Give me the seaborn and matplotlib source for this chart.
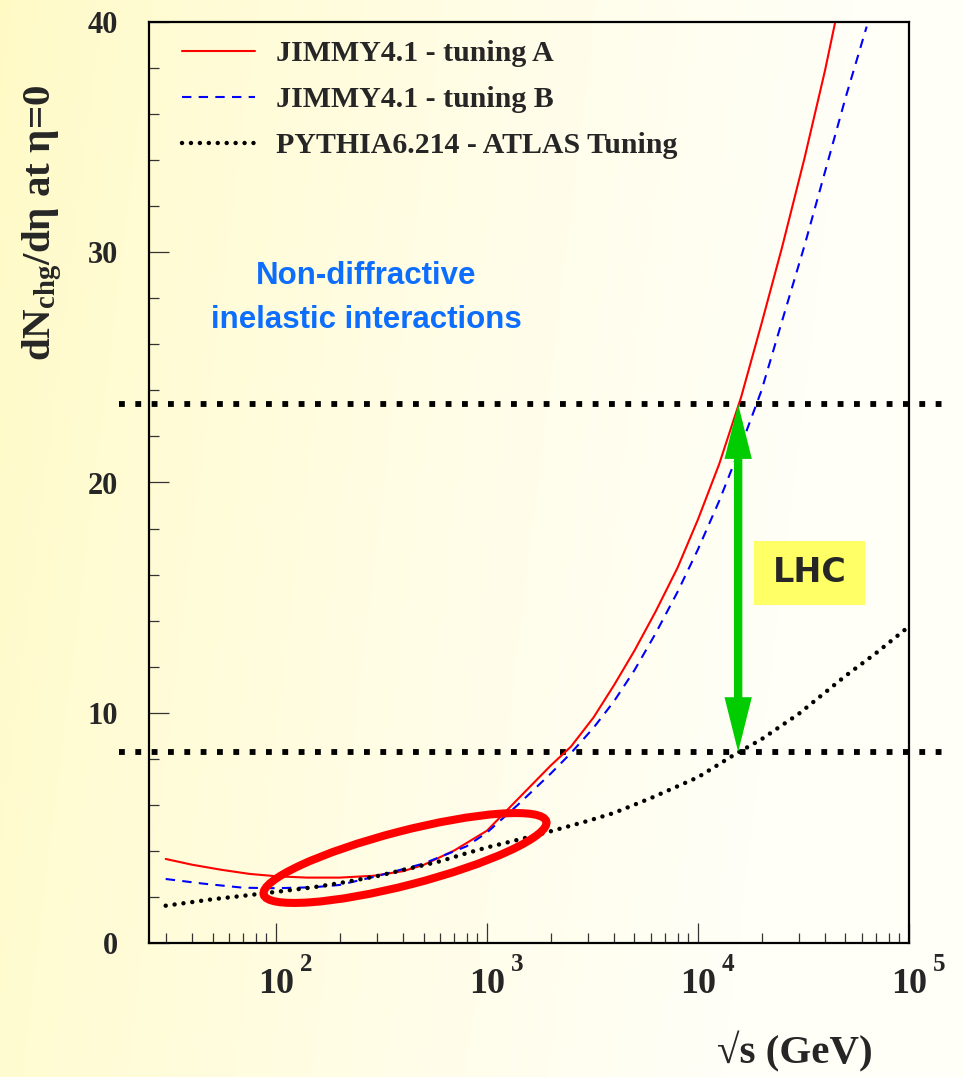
import numpy as np
import matplotlib
matplotlib.use("Agg")
import matplotlib.pyplot as plt
import matplotlib.transforms as mtrans
import seaborn as sns
from matplotlib.patches import Ellipse, Rectangle
from matplotlib.ticker import LogLocator, MultipleLocator, FuncFormatter, NullFormatter

sns.set_style("ticks")
plt.rcParams['font.family'] = ['Liberation Serif', 'DejaVu Serif']
plt.rcParams['font.weight'] = 'bold'
plt.rcParams['mathtext.fontset'] = 'custom'
plt.rcParams['mathtext.rm'] = 'Liberation Serif:bold'
plt.rcParams['mathtext.bf'] = 'Liberation Serif:bold'
plt.rcParams['mathtext.it'] = 'Liberation Serif:bold:italic'

# JIMMY4.1 - tuning A
sqrt_s_a = [30, 40, 55, 75, 100, 140, 200, 290, 400, 500, 700, 1000, 1400, 2000, 2500, 3200, 4000, 5000,
            6300, 8000, 10000, 12600, 16000, 20000, 25000, 32000, 40000, 44700]
nch_a = [3.65, 3.4, 3.18, 3.0, 2.9, 2.84, 2.84, 2.92, 3.12, 3.39, 4.02, 4.88, 6.25, 7.7, 8.53, 9.8, 11.2, 12.7,
         14.4, 16.3, 18.4, 20.8, 23.7, 26.9, 30.2, 34.1, 37.9, 40.0]

# JIMMY4.1 - tuning B
sqrt_s_b = [30, 45, 70, 100, 150, 200, 300, 500, 800, 1000, 1400, 2000, 2500, 3200, 4000, 5000, 6300, 8000,
            10000, 12600, 16000, 20000, 25000, 32000, 40000, 50000, 63000]
nch_b = [2.78, 2.58, 2.4, 2.38, 2.42, 2.52, 2.9, 3.45, 4.2, 4.8, 6.0, 7.35, 8.25, 9.35, 10.5, 11.85, 13.45, 15.25,
         17.1, 19.2, 21.6, 24.0, 27.0, 30.3, 33.5, 36.7, 39.8]

# PYTHIA6.214 - ATLAS Tuning
sqrt_s_p = [30, 50, 70, 100, 150, 200, 300, 400, 600, 800, 1000, 1500, 2000, 3000, 4000, 6000, 10000, 15000,
            20000, 30000, 50000, 70000, 100000]
nch_p = [1.62, 1.9, 2.05, 2.22, 2.42, 2.6, 2.9, 3.17, 3.55, 3.9, 4.15, 4.55, 4.85, 5.3, 5.65, 6.3, 7.2, 8.2,
         8.85, 9.95, 11.6, 12.6, 13.75]

labels = ["JIMMY4.1 - tuning A", "JIMMY4.1 - tuning B", "PYTHIA6.214 - ATLAS Tuning"]

# LHC range markers
lhc_levels = [8.3, 23.4]
lhc_line_x = [18, 150000]
lhc_arrow_x = 15500

fig = plt.figure(figsize=(9.63, 10.77), dpi=100)

# yellowish background gradient
bg = fig.add_axes([0, 0, 1, 1], zorder=-1)
gx = np.linspace(0, 1, 400)
gy = np.linspace(0, 1, 400)
GX, GY = np.meshgrid(gx, gy)
t = np.clip(GX * 1.1 + 0.15 * GY, 0, 1) ** 0.75
left = np.array([255, 250, 196]) / 255
right = np.array([255, 255, 248]) / 255
img = left[None, None, :] * (1 - t[..., None]) + right[None, None, :] * t[..., None]
bg.imshow(img, aspect='auto', extent=[0, 1, 0, 1], origin='upper')
bg.axis('off')

ax = fig.add_axes([149 / 963, 1 - 943 / 1077, 760 / 963, 921 / 1077])
ax.set_facecolor('none')

sns.lineplot(x=sqrt_s_a, y=nch_a, ax=ax, color='#FF0000', lw=1.5, label=labels[0], errorbar=None)
sns.lineplot(x=sqrt_s_b, y=nch_b, ax=ax, color='#0000FF', lw=1.5, linestyle=(0, (4.5, 3.5)),
             label=labels[1], errorbar=None)
sns.lineplot(x=sqrt_s_p, y=nch_p, ax=ax, color='black', lw=3.2, linestyle=(0, (0.01, 2.0)),
             dash_capstyle='round', label=labels[2], errorbar=None)

for lv in lhc_levels:
    ax.plot(lhc_line_x, [lv, lv], color='black', lw=4.2, linestyle=(0, (1, 1.8)),
            dash_capstyle='butt', clip_on=False, zorder=1)

ax.annotate("", xy=(lhc_arrow_x, lhc_levels[0]), xytext=(lhc_arrow_x, lhc_levels[1]),
            arrowprops=dict(arrowstyle='<|-|>,head_length=24,head_width=6', mutation_scale=1,
                            lw=6.0, color='#00CC00', shrinkA=0, shrinkB=0,
                            joinstyle='miter', capstyle='butt'), zorder=4)

ax.set_xscale('log')
ax.set_xlim(25, 1e5)
ax.set_ylim(0, 40)

ax.xaxis.set_major_locator(LogLocator(base=10, numticks=10))
ax.xaxis.set_minor_locator(LogLocator(base=10, subs=np.arange(2, 10), numticks=20))
ax.xaxis.set_minor_formatter(NullFormatter())
ax.xaxis.set_major_formatter(FuncFormatter(lambda v, p: '10'))
ax.yaxis.set_major_locator(MultipleLocator(10))
ax.yaxis.set_minor_locator(MultipleLocator(2))

ax.tick_params(axis='both', which='major', direction='in', length=14.4, width=0.9, color='#333333')
ax.tick_params(axis='both', which='minor', direction='in', length=7.2, width=0.9, color='#333333')
ax.tick_params(axis='y', which='major', pad=22, labelsize=22)
ax.tick_params(axis='x', which='major', pad=18, labelsize=26)

# decade exponents next to the "10" tick labels
expo_tr = mtrans.blended_transform_factory(ax.transData, ax.transAxes) + \
    mtrans.ScaledTranslation(0.24, -0.10, fig.dpi_scale_trans)
for v in [1e2, 1e3, 1e4, 1e5]:
    ax.text(v, 0, '%d' % round(np.log10(v)), transform=expo_tr, ha='left', va='top',
            fontsize=18, fontweight='bold', clip_on=False)

for s in ax.spines.values():
    s.set_linewidth(1.6)
    s.set_color('black')

ax.set_ylabel(r'dN$_{\mathbf{chg}}$/dη at η=0', fontsize=29.5, fontweight='bold', va='center')
ax.yaxis.set_label_coords((42 - 149) / 760, (943 - 223) / 921)
ax.set_xlabel('√s (GeV)', fontsize=29.5, fontweight='bold', ha='right', va='center')
ax.xaxis.set_label_coords((873 - 149) / 760, (943 - 1052) / 921)

handles, labs = ax.get_legend_handles_labels()
ax.legend(handles, labs, loc='upper left', bbox_to_anchor=(0.043, 0.980), frameon=False,
          prop=dict(family='Liberation Serif', weight='bold', size=21.5), handlelength=2.45,
          handletextpad=0.72, labelspacing=0.63, borderpad=0, borderaxespad=0)

fig.text(366 / 963, 1 - 298 / 1077, "Non-diffractive\ninelastic interactions", ha='center', va='center',
         color='#0D6EFD', fontsize=22.5, fontweight='bold', linespacing=1.6,
         family=['Liberation Sans'])

# highlighted low energy region
fig.add_artist(Ellipse((4.05, 2.19), width=2.92, height=0.54, angle=14.5, transform=fig.dpi_scale_trans,
                       fill=False, edgecolor='#FF0000', lw=5.8, zorder=5))

fig.add_artist(Rectangle((7.54, 4.72), 1.11, 0.64, transform=fig.dpi_scale_trans,
                         facecolor='#FFFF66', edgecolor='none', zorder=5))
fig.text(8.095 / 9.63, 5.04 / 10.77, "LHC", ha='center', va='center', fontsize=24, fontweight='bold',
         family=['DejaVu Sans'], zorder=6)

fig.savefig("out.png", dpi=100)
